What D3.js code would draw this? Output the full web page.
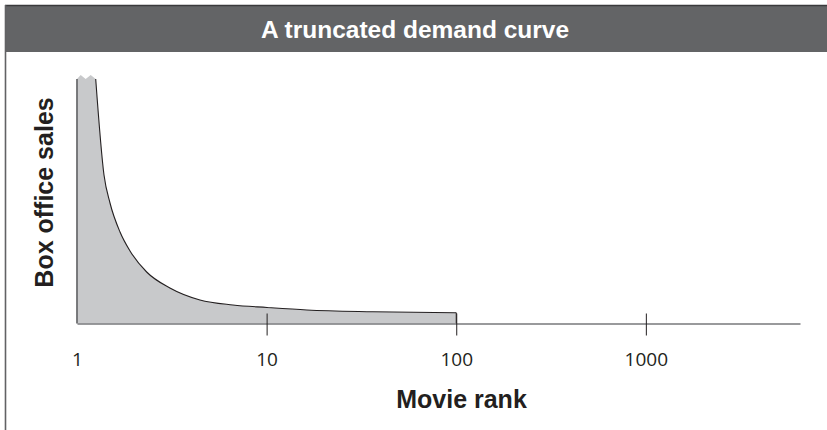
<!DOCTYPE html>
<html>
<head>
<meta charset="utf-8">
<script src="https://cdn.jsdelivr.net/npm/d3@7"></script>
<style>
  body { margin: 0; background: #fff; }
  svg { display: block; }
</style>
</head>
<body>
<div id="chart"></div>
<script>
// chart data (sales in arbitrary units, 0 = baseline)
var ranks      = [1.255, 1.388, 1.493, 1.686, 1.904, 2.33, 3.09, 4.45, 6.64, 10.05, 16.3, 36.3, 100];
var sales      = [244.5, 148.5, 120.5, 91.5, 72.5, 51.5, 35.5, 23.5, 18.5, 16.0, 13.5, 11.8, 10.8];
// zigzag "break" mark showing the curve is cut off at the top
var breakRanks = [1, 1.046, 1.111, 1.181, 1.255];
var breakSales = [244.5, 248.5, 244.5, 248.5, 244.5];
var tickValues = [1, 10, 100, 1000];
var rankMax = 6500;
var salesMax = 250;

var title = "A truncated demand curve";
var xTitle = "Movie rank";
var yTitle = "Box office sales";

var width = 827, height = 430;

var svg = d3.select("#chart").append("svg")
  .attr("width", width)
  .attr("height", height);

// frame: title bar + left rule
svg.append("rect")
  .attr("x", 5.5).attr("y", 5)
  .attr("width", width - 5.5).attr("height", 47)
  .style("fill", "#636466");
svg.append("line")
  .attr("x1", 5).attr("x2", width)
  .attr("y1", 5.5).attr("y2", 5.5)
  .style("stroke", "#3a3a3c").style("stroke-width", 1.5);
svg.append("line")
  .attr("x1", 5.5).attr("x2", 5.5)
  .attr("y1", 5).attr("y2", height)
  .style("stroke", "#626264").style("stroke-width", 1.6);

svg.append("text")
  .attr("x", 415).attr("y", 38)
  .style("text-anchor", "middle")
  .style("font-family", "'Liberation Sans', Arial, sans-serif")
  .style("font-weight", "bold")
  .style("font-size", "24.5px")
  .style("fill", "#fff")
  .text(title);

// scales
var x = d3.scaleLog()
  .domain([1, rankMax])
  .range([77, 800]);
var y = d3.scaleLinear()
  .domain([0, salesMax])
  .range([323.5, 73.5]);

var curveData = ranks.map((r, i) => ({rank: r, value: sales[i]}));
var breakData = breakRanks.map((r, i) => ({rank: r, value: breakSales[i]}));

var curveLine = d3.line()
  .x(d => x(d.rank))
  .y(d => y(d.value))
  .curve(d3.curveMonotoneX);
var breakLine = d3.line()
  .x(d => x(d.rank))
  .y(d => y(d.value));

// one filled shape: baseline -> zigzag -> smooth curve -> baseline
var lastRank = ranks[ranks.length - 1];
var areaPath = "M" + x(1) + "," + y(0)
  + breakLine(breakData).replace(/^M/, "L")
  + curveLine(curveData).replace(/^M/, "L")
  + "L" + x(lastRank) + "," + y(0) + "Z";

svg.append("path")
  .attr("d", areaPath)
  .style("fill", "#c8c9cb")
  .style("stroke", "none");

svg.append("path")
  .attr("d", curveLine(curveData))
  .style("fill", "none")
  .style("stroke", "#231f20")
  .style("stroke-width", 1.1);

// right edge of the shaded area
svg.append("line")
  .attr("x1", x(lastRank)).attr("x2", x(lastRank))
  .attr("y1", y(sales[sales.length - 1])).attr("y2", y(0))
  .style("stroke", "#231f20").style("stroke-width", 1);

// y axis (left edge of the area)
svg.append("line")
  .attr("x1", x(1)).attr("x2", x(1))
  .attr("y1", y(breakSales[0])).attr("y2", y(0))
  .style("stroke", "#6d6e70").style("stroke-width", 1.8);

// x axis
var xAxis = d3.axisBottom(x)
  .tickValues(tickValues)
  .tickFormat(d3.format("d"))
  .tickSizeOuter(0)
  .tickSizeInner(12);

var gx = svg.append("g")
  .attr("transform", "translate(0," + y(0) + ")")
  .call(xAxis);

gx.select(".domain")
  .style("stroke", "#77787b")
  .style("stroke-width", 1.3);
gx.selectAll(".tick line")
  .attr("y1", -10)
  .attr("y2", 12)
  .style("stroke", "#231f20")
  .style("stroke-width", 1);
// the tick at 1 sits on the y axis, no mark there
gx.selectAll(".tick line").filter(d => d === 1).remove();
gx.selectAll(".tick text")
  .attr("y", 42.5)
  .attr("dy", 0)
  .style("font-family", "'Open Sans', 'Noto Sans', sans-serif")
  .style("font-size", "19px")
  .style("fill", "#231f20");

// axis titles
svg.append("text")
  .attr("x", 461.5).attr("y", 408)
  .style("text-anchor", "middle")
  .style("font-family", "'Liberation Sans', Arial, sans-serif")
  .style("font-weight", "bold")
  .style("font-size", "25px")
  .style("fill", "#231f20")
  .text(xTitle);

svg.append("text")
  .attr("transform", "translate(53,192.5) rotate(-90)")
  .style("text-anchor", "middle")
  .style("font-family", "'Liberation Sans', Arial, sans-serif")
  .style("font-weight", "bold")
  .style("font-size", "25px")
  .style("fill", "#231f20")
  .text(yTitle);
</script>
</body>
</html>
